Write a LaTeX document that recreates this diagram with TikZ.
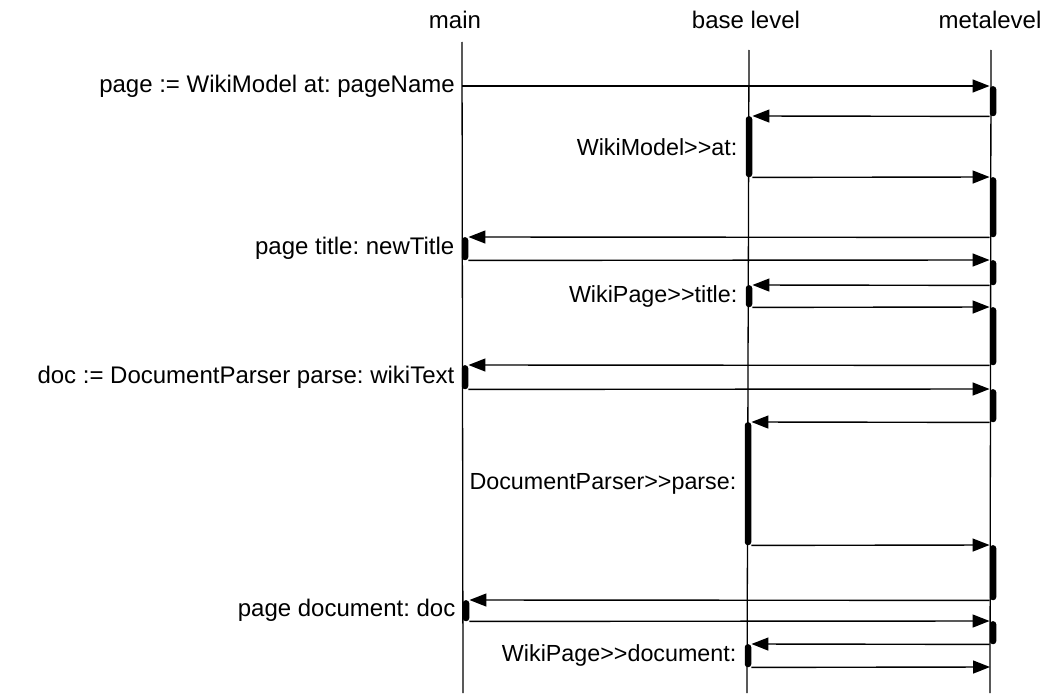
\documentclass[tikz,border=0pt]{standalone}
\usepackage{fontspec}
\setmainfont{Liberation Sans}
\frenchspacing
\usetikzlibrary{positioning,arrows.meta}

\begin{document}
\begin{tikzpicture}[x=1pt,y=-1pt,
    lifeline/.style ={line width=1.3pt},
    activation/.style ={rectangle, fill=black, rounded corners=3pt, inner sep=0pt,
                        minimum width=6.5pt, anchor=north},
    message/.style ={line width=1.4pt, -{Triangle[length=17pt,width=13pt]}},
    caption/.style ={font=\fontsize{24}{28}\selectfont, inner sep=0pt},
    method/.style ={font=\fontsize{23.3}{28}\selectfont, inner sep=0pt}]
   \useasboundingbox (0,0) rectangle (1046,693);

   % lifelines
   \node[caption,anchor=base] (mainlbl) at (455,29) {main};
   \node[caption,anchor=base] (baselbl) at (746,29) {base level};
   \node[caption,anchor=base] (metalbl) at (990,29) {metalevel};
   \coordinate (maintop) at (462,42);
   \coordinate (mainbot) at (463,693);
   \coordinate (basetop) at (749,50);
   \coordinate (basebot) at (747,693);
   \coordinate (metatop) at (991,50);
   \coordinate (metabot) at (990,693);
   \draw[lifeline] (maintop) -- (mainbot);
   \draw[lifeline] (basetop) -- (basebot);
   \draw[lifeline] (metatop) -- (metabot);

   % activations
   \node[activation,minimum height=30] (m1) at (993,86)  {};
   \node[activation,minimum height=60] (m2) at (993,177) {};
   \node[activation,minimum height=25] (m3) at (993,260) {};
   \node[activation,minimum height=58] (m4) at (993,307) {};
   \node[activation,minimum height=33] (m5) at (993,389) {};
   \node[activation,minimum height=55] (m6) at (993,545) {};
   \node[activation,minimum height=23] (m7) at (993,621) {};
   \node[activation,minimum height=61]  (b1) at (749,116) {};
   \node[activation,minimum height=22]  (b2) at (749,285) {};
   \node[activation,minimum height=123] (b3) at (748,422) {};
   \node[activation,minimum height=23]  (b4) at (748,644) {};
   \node[activation,minimum height=23] (c1) at (465,237) {};
   \node[activation,minimum height=24] (c2) at (465,365) {};
   \node[activation,minimum height=21] (c3) at (466,600) {};
   \coordinate (start) at (462,86);
   \coordinate (stop) at (990,667);

   % messages
   \draw[message] (start) to (m1.north west);
   \draw[message] (m1.south west) to (b1.north east);
   \draw[message] (b1.south east) to (m2.north west);
   \draw[message] (m2.south west) to (c1.north east);
   \draw[message] (c1.south east) to (m3.north west);
   \draw[message] (m3.south west) to (b2.north east);
   \draw[message] (b2.south east) to (m4.north west);
   \draw[message] (m4.south west) to (c2.north east);
   \draw[message] (c2.south east) to (m5.north west);
   \draw[message] (m5.south west) to (b3.north east);
   \draw[message] (b3.south east) to (m6.north west);
   \draw[message] (m6.south west) to (c3.north east);
   \draw[message] (c3.south east) to (m7.north west);
   \draw[message] (m7.south west) to (b4.north east);
   \draw[message] (b4.south east) to (stop);

   % texts
   \node[caption,left=7pt of start] (send1) {page := WikiModel at: pageName};
   \node[caption,left=7pt of c1] (send2) {page title: newTitle};
   \node[caption,left=7pt of c2] (send3) {doc := DocumentParser parse: wikiText};
   \node[caption,left=7pt of c3] (send4) {page document: doc};
   \node[method,left=8pt of b1] (meth1) {WikiModel>{}>at:};
   \node[method,left=8pt of b2] (meth2) {WikiPage>{}>title:};
   \node[method,left=8pt of b3] (meth3) {DocumentParser>{}>parse:};
   \node[method,left=8pt of b4] (meth4) {WikiPage>{}>document:};
 \end{tikzpicture}
\end{document}
